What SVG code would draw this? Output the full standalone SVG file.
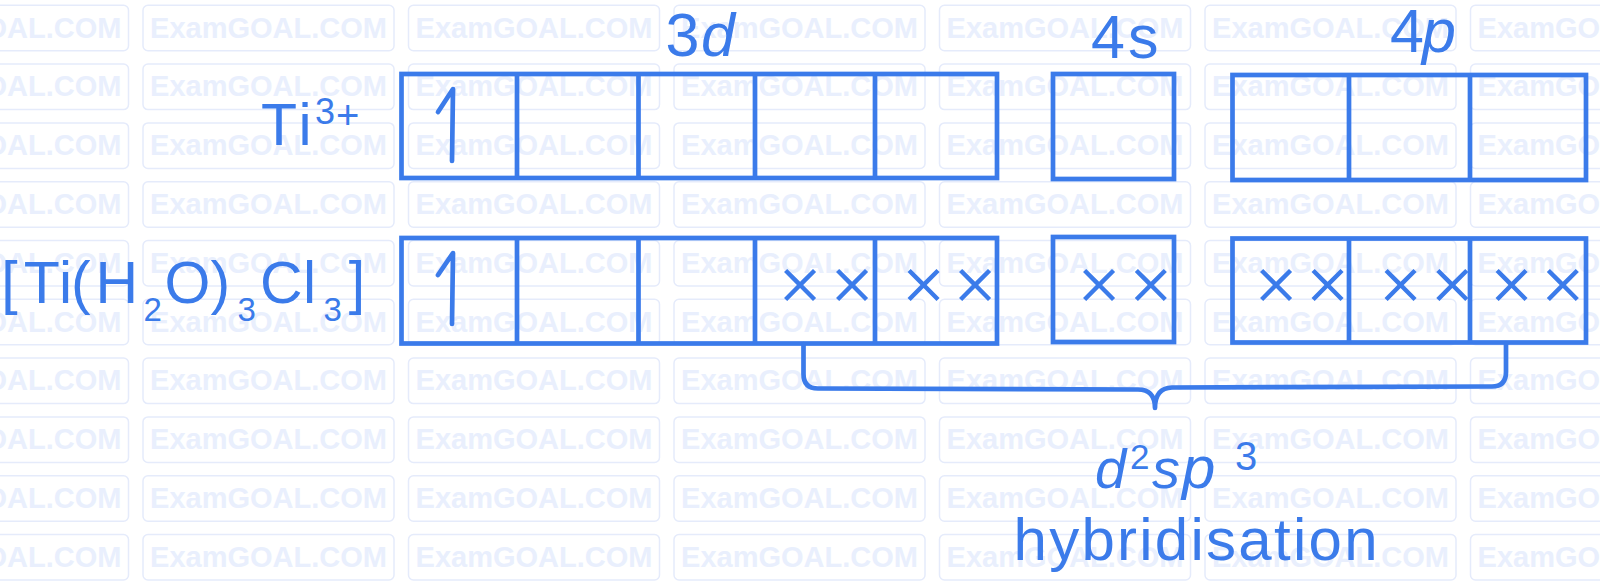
<svg xmlns="http://www.w3.org/2000/svg" xmlns:xlink="http://www.w3.org/1999/xlink" width="1600" height="581" viewBox="0 0 1600 581">
<style>
.wmr{fill:none;stroke:#e5ebfb;stroke-width:1.5}
.wmt{fill:#e9effd;font-family:"Liberation Sans",Arial,sans-serif;font-weight:bold;font-size:29px;text-anchor:middle}
.box{fill:none;stroke:#3b7bea;stroke-width:4.7;stroke-linejoin:miter}
.ln{fill:none;stroke:#3b7bea;stroke-width:4.7;stroke-linecap:round;stroke-linejoin:round}
.t{fill:#3b7bea;font-family:"Liberation Sans",Arial,sans-serif}
.x{fill:#3b7bea;font-family:Inter,"Liberation Sans",sans-serif;font-weight:300;font-size:72px;text-anchor:middle}
</style>
<defs>
<g id="wm"><rect class="wmr" x="0" y="0" width="251" height="45.5" rx="5"/><text class="wmt" x="125.5" y="32.4">ExamGOAL.COM</text></g>
</defs>
<rect width="1600" height="581" fill="#ffffff"/>
<g id="watermark">
<use xlink:href="#wm" x="-122.5" y="5.3"/><use xlink:href="#wm" x="143" y="5.3"/><use xlink:href="#wm" x="408.5" y="5.3"/><use xlink:href="#wm" x="674" y="5.3"/><use xlink:href="#wm" x="939.5" y="5.3"/><use xlink:href="#wm" x="1205" y="5.3"/><use xlink:href="#wm" x="1470.5" y="5.3"/>
<use xlink:href="#wm" x="-122.5" y="64.1"/><use xlink:href="#wm" x="143" y="64.1"/><use xlink:href="#wm" x="408.5" y="64.1"/><use xlink:href="#wm" x="674" y="64.1"/><use xlink:href="#wm" x="939.5" y="64.1"/><use xlink:href="#wm" x="1205" y="64.1"/><use xlink:href="#wm" x="1470.5" y="64.1"/>
<use xlink:href="#wm" x="-122.5" y="122.9"/><use xlink:href="#wm" x="143" y="122.9"/><use xlink:href="#wm" x="408.5" y="122.9"/><use xlink:href="#wm" x="674" y="122.9"/><use xlink:href="#wm" x="939.5" y="122.9"/><use xlink:href="#wm" x="1205" y="122.9"/><use xlink:href="#wm" x="1470.5" y="122.9"/>
<use xlink:href="#wm" x="-122.5" y="181.7"/><use xlink:href="#wm" x="143" y="181.7"/><use xlink:href="#wm" x="408.5" y="181.7"/><use xlink:href="#wm" x="674" y="181.7"/><use xlink:href="#wm" x="939.5" y="181.7"/><use xlink:href="#wm" x="1205" y="181.7"/><use xlink:href="#wm" x="1470.5" y="181.7"/>
<use xlink:href="#wm" x="-122.5" y="240.5"/><use xlink:href="#wm" x="143" y="240.5"/><use xlink:href="#wm" x="408.5" y="240.5"/><use xlink:href="#wm" x="674" y="240.5"/><use xlink:href="#wm" x="939.5" y="240.5"/><use xlink:href="#wm" x="1205" y="240.5"/><use xlink:href="#wm" x="1470.5" y="240.5"/>
<use xlink:href="#wm" x="-122.5" y="299.3"/><use xlink:href="#wm" x="143" y="299.3"/><use xlink:href="#wm" x="408.5" y="299.3"/><use xlink:href="#wm" x="674" y="299.3"/><use xlink:href="#wm" x="939.5" y="299.3"/><use xlink:href="#wm" x="1205" y="299.3"/><use xlink:href="#wm" x="1470.5" y="299.3"/>
<use xlink:href="#wm" x="-122.5" y="358.1"/><use xlink:href="#wm" x="143" y="358.1"/><use xlink:href="#wm" x="408.5" y="358.1"/><use xlink:href="#wm" x="674" y="358.1"/><use xlink:href="#wm" x="939.5" y="358.1"/><use xlink:href="#wm" x="1205" y="358.1"/><use xlink:href="#wm" x="1470.5" y="358.1"/>
<use xlink:href="#wm" x="-122.5" y="416.9"/><use xlink:href="#wm" x="143" y="416.9"/><use xlink:href="#wm" x="408.5" y="416.9"/><use xlink:href="#wm" x="674" y="416.9"/><use xlink:href="#wm" x="939.5" y="416.9"/><use xlink:href="#wm" x="1205" y="416.9"/><use xlink:href="#wm" x="1470.5" y="416.9"/>
<use xlink:href="#wm" x="-122.5" y="475.7"/><use xlink:href="#wm" x="143" y="475.7"/><use xlink:href="#wm" x="408.5" y="475.7"/><use xlink:href="#wm" x="674" y="475.7"/><use xlink:href="#wm" x="939.5" y="475.7"/><use xlink:href="#wm" x="1205" y="475.7"/><use xlink:href="#wm" x="1470.5" y="475.7"/>
<use xlink:href="#wm" x="-122.5" y="534.5"/><use xlink:href="#wm" x="143" y="534.5"/><use xlink:href="#wm" x="408.5" y="534.5"/><use xlink:href="#wm" x="674" y="534.5"/><use xlink:href="#wm" x="939.5" y="534.5"/><use xlink:href="#wm" x="1205" y="534.5"/><use xlink:href="#wm" x="1470.5" y="534.5"/>
</g>

<g id="label-3d"><text class="t" y="56" font-size="61"><tspan x="665.5">3</tspan><tspan x="701" font-style="italic">d</tspan></text></g>
<g id="label-4s"><text class="t" y="58" font-size="61"><tspan x="1091">4</tspan><tspan x="1128">s</tspan></text></g>
<g id="label-4p"><text class="t" y="52" font-size="61"><tspan x="1390">4</tspan><tspan x="1422" font-style="italic">p</tspan></text></g>

<g id="label-ti3">
<text class="t"><tspan x="261" y="145" font-size="59">T</tspan><tspan x="298.5" y="145" font-size="59">i</tspan><tspan x="315" y="124.3" font-size="36">3</tspan><tspan x="336" y="129" font-size="40">+</tspan></text>
</g>

<g id="label-complex">
<text class="t" font-size="59"><tspan x="1.3" y="302.7">[</tspan><tspan x="23.7" y="302.7">T</tspan><tspan x="59" y="302.7">i</tspan><tspan x="71" y="302.7">(</tspan><tspan x="95.4" y="302.7">H</tspan><tspan x="143.5" y="320.5" font-size="33">2</tspan><tspan x="164.5" y="302.7">O</tspan><tspan x="210.5" y="302.7">)</tspan><tspan x="237.5" y="320.5" font-size="33">3</tspan><tspan x="260" y="302.7">C</tspan><tspan x="303" y="302.7">l</tspan><tspan x="323.5" y="320.5" font-size="33">3</tspan><tspan x="348.8" y="302.7">]</tspan></text>
</g>

<g id="ti-3d">
<rect class="box" x="401.5" y="74" width="595.5" height="104"/>
<path class="box" d="M517 74V178M638.5 74V178M755 74V178M875 74V178"/>
<path class="ln" d="M452 161Q452.5 125 453 89L438 112"/>
</g>
<g id="ti-4s"><rect class="box" x="1053" y="74" width="121" height="105"/></g>
<g id="ti-4p">
<rect class="box" x="1232.5" y="75" width="353.5" height="105"/>
<path class="box" d="M1349 75V180M1470 75V180"/>
</g>

<g id="cx-3d">
<rect class="box" x="401.5" y="238" width="595.5" height="105.5"/>
<path class="box" d="M517 238V343.5M638.5 238V343.5M755 238V343.5M875 238V343.5"/>
<path class="ln" d="M452 324Q452.5 290 453 253L438 275"/>
<text class="x" y="305"><tspan x="800">×</tspan><tspan x="852">×</tspan><tspan x="923.5">×</tspan><tspan x="975">×</tspan></text>
</g>
<g id="cx-4s">
<rect class="box" x="1053" y="237" width="121" height="105"/>
<text class="x" y="305"><tspan x="1099">×</tspan><tspan x="1150.7">×</tspan></text>
</g>
<g id="cx-4p">
<rect class="box" x="1232.5" y="238.5" width="353.5" height="104"/>
<path class="box" d="M1349 238.5V342.5M1470 238.5V342.5"/>
<text class="x" y="305"><tspan x="1276">×</tspan><tspan x="1327.5">×</tspan><tspan x="1400.5">×</tspan><tspan x="1452.3">×</tspan><tspan x="1511.5">×</tspan><tspan x="1562.8">×</tspan></text>
</g>

<g id="connectors">
<path class="ln" d="M803.5 344V374Q803.5 388.5 818 388.5L1138 389.5Q1155 389.5 1155 408Q1155 388 1172 387.5L1492 386.5Q1506 386.5 1506 372V344"/>
</g>

<g id="label-hyb">
<text class="t"><tspan x="1095" y="488" font-size="56" font-style="italic">d</tspan><tspan x="1130" y="469" font-size="35">2</tspan><tspan x="1152" y="488" font-size="56" font-style="italic">s</tspan><tspan x="1182" y="488" font-size="60" font-style="italic">p</tspan><tspan x="1235" y="470" font-size="40">3</tspan></text>
<text class="t" x="1013.5" y="560" font-size="60" textLength="364" lengthAdjust="spacing">hybridisation</text>
</g>
</svg>
